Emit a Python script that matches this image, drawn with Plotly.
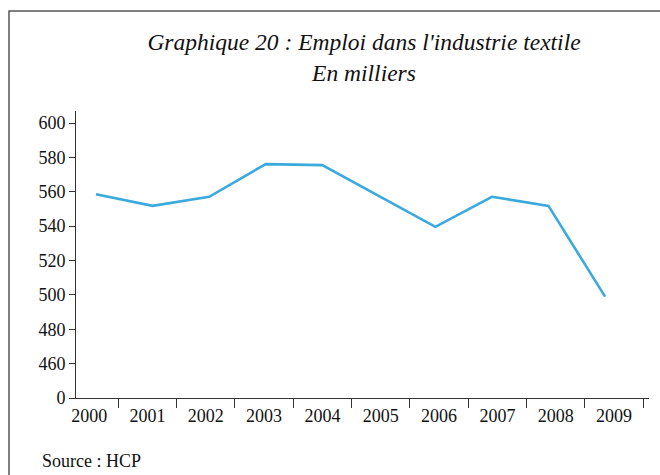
import plotly.graph_objects as go

years = ["2000", "2001", "2002", "2003", "2004", "2005", "2006", "2007", "2008", "2009"]
emploi = [558.6, 551.8, 557.1, 576.1, 575.5, 557.6, 539.6, 557.1, 551.8, 499.0]
y_tickvals = [440, 460, 480, 500, 520, 540, 560, 580, 600]
y_ticktext = ["0", "460", "480", "500", "520", "540", "560", "580", "600"]

FONT = "Liberation Serif, Times New Roman, serif"
idx = list(range(len(years)))

fig = go.Figure()
# invisible carrier so the category axis (x) is drawn
fig.add_trace(go.Scatter(
    x=idx, y=[None] * len(idx), mode="lines", xaxis="x", yaxis="y",
    showlegend=False, hoverinfo="skip",
))
fig.add_trace(go.Scatter(
    x=idx, y=emploi, mode="lines", xaxis="x2", yaxis="y",
    line=dict(color="#3AA9DC", width=2.6), showlegend=False,
    hovertext=years,
))

fig.update_layout(
    width=660, height=475,
    margin=dict(l=76, r=11, t=111, b=77),
    paper_bgcolor="white", plot_bgcolor="white",
    font=dict(family=FONT, size=18, color="#111"),
    title=dict(
        text="Graphique 20 : Emploi dans l'industrie textile<br>En milliers",
        font=dict(family=FONT, size=23.5, style="italic", color="#111"),
        x=364/660, xanchor="center", xref="container",
        y=1-50/475, yanchor="middle", yref="container",
    ),
    xaxis=dict(
        range=[-0.226, 9.6], tickvals=idx, ticktext=years,
        ticks="outside", ticklen=1, tickcolor="rgba(0,0,0,0)",
        showline=True, linecolor="#333", linewidth=1,
        showgrid=False, zeroline=False,
        minor=dict(tickvals=[i + 0.5 for i in idx], ticks="outside",
                   ticklen=9, tickcolor="#333", tickwidth=1, showgrid=False),
        tickfont=dict(family=FONT, size=18, color="#111"),
    ),
    xaxis2=dict(
        range=[-0.354, 9.777], overlaying="x", visible=False,
    ),
    yaxis=dict(
        range=[440, 607], tickvals=y_tickvals, ticktext=y_ticktext,
        ticks="outside", ticklen=6, tickcolor="#333",
        showline=True, linecolor="#333", linewidth=1,
        showgrid=False, zeroline=False,
        tickfont=dict(family=FONT, size=18, color="#111"),
    ),
    annotations=[dict(
        text="Source : HCP", xref="paper", yref="paper",
        x=(40-76)/573, y=(398-461)/287, xanchor="left", yanchor="middle",
        showarrow=False, font=dict(family=FONT, size=18, color="#111"),
    )],
    shapes=[dict(
        type="rect", xref="paper", yref="paper",
        x0=(9-76)/573, x1=1.2, y0=-0.5, y1=(398-11)/287,
        line=dict(color="#555", width=1.5), layer="below",
    )],
)

fig.write_html("out.html", config={"displayModeBar": False},
               post_script="document.body.style.margin='0';")
